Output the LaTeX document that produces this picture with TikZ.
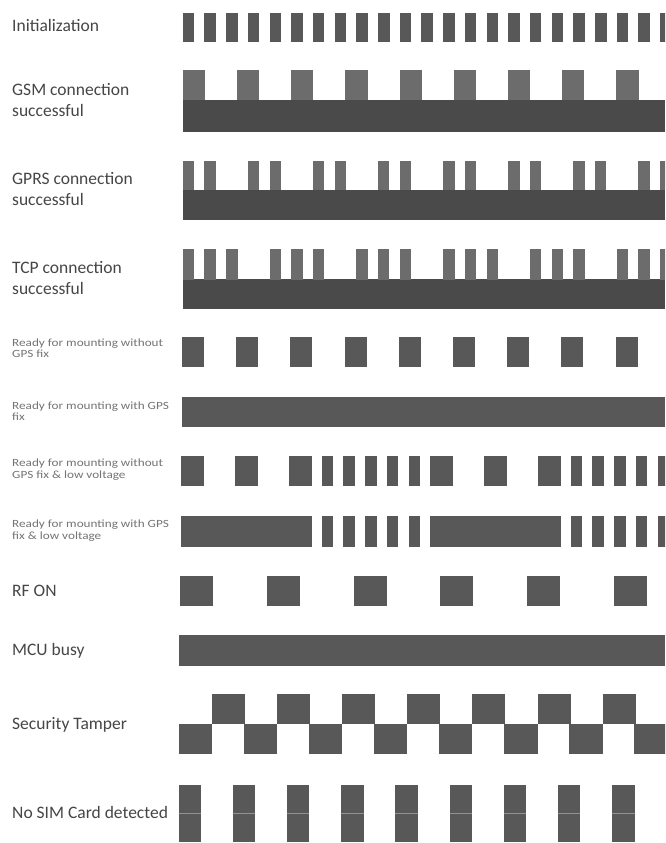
\documentclass[tikz,border=0pt]{standalone}
\usepackage{fontspec}
\setmainfont{Carlito}
\newfontfamily\smallf[FakeStretch=1.2]{Carlito}
\definecolor{barc}{RGB}{108,108,108}
\definecolor{basec}{RGB}{74,74,74}
\definecolor{blockc}{RGB}{88,88,88}
\definecolor{txt}{RGB}{70,70,70}
\begin{document}
\begin{tikzpicture}[x=1pt,y=-1pt,
  biglab/.style={anchor=base west,inner sep=0pt,text=txt,font=\fontsize{17.5}{20}\selectfont},
  smalllab/.style={anchor=base west,inner sep=0pt,text=txt!75,font=\smallf\fontsize{11}{12}\selectfont},
  pulse/.style={fill=barc},
  base/.style={fill=basec},
  block/.style={fill=blockc}]
\useasboundingbox (0,0) rectangle (665,843);
\clip (0,0) rectangle (665,843);
\fill[white] (0,0) rectangle (665,843);

% labels
\node[biglab] (l1) at (12,32) {Initialization};
\node[biglab] (l2a) at (12,95.5) {GSM connection};
\node[biglab] (l2b) at (12,116.5) {successful};
\node[biglab] (l3a) at (12,184.5) {GPRS connection};
\node[biglab] (l3b) at (12,205.5) {successful};
\node[biglab] (l4a) at (12,273.5) {TCP connection};
\node[biglab] (l4b) at (12,294.5) {successful};
\node[smalllab] (l5a) at (12,346) {Ready for mounting without};
\node[smalllab] (l5b) at (12,357) {GPS fix};
\node[smalllab] (l6a) at (12,409.5) {Ready for mounting with GPS};
\node[smalllab] (l6b) at (12,420.5) {fix};
\node[smalllab] (l7a) at (12,466.5) {Ready for mounting without};
\node[smalllab] (l7b) at (12,478) {GPS fix \& low voltage};
\node[smalllab] (l8a) at (12,527.5) {Ready for mounting with GPS};
\node[smalllab] (l8b) at (12,539) {fix \& low voltage};
\node[biglab] (l9) at (12,596) {RF ON};
\node[biglab] (l10) at (12,655) {MCU busy};
\node[biglab] (l11) at (12,729) {Security Tamper};
\node[biglab] (l12) at (12,818) {No SIM Card detected};

% Row 1: Initialization
\foreach \k in {0,...,22}
  \fill[block] ({182.7+21.7*\k},12.7) rectangle +(11.5,29);

% Row 2: GSM
\fill[base] (182.7,100) rectangle (665,131.7);
\foreach \k in {0,...,8}
  \fill[pulse] ({182.7+54.2*\k},70) rectangle +(22.3,30.2);

% Row 3: GPRS
\fill[base] (182.7,190) rectangle (665,220);
\foreach \k in {0,...,7}{
  \fill[pulse] ({182.7+65.1*\k},160.7) rectangle +(11.4,29.5);
  \fill[pulse] ({204.4+65.1*\k},160.7) rectangle +(11.4,29.5);
}

% Row 4: TCP
\fill[base] (182.7,279.3) rectangle (665,309.3);
\foreach \k in {0,...,5}{
  \foreach \j in {0,1,2}
    \fill[pulse] ({182.7+86.8*\k+21.7*\j},249.3) rectangle +(11.4,30.2);
}

% Row 5: ready without GPS fix
\foreach \k in {0,...,8}
  \fill[block] ({182+54.2*\k},336.7) rectangle +(22,30);

% Row 6: ready with GPS fix
\fill[block] (182,397.3) rectangle (665,427.3);

% Row 7: ready without GPS fix & low voltage
\foreach \g in {181,430}{
  \foreach \w in {0,54.2,108.3}
    \fill[block] ({\g+\w},455.7) rectangle +(22.5,30.3);
  \foreach \j in {0,...,4}
    \fill[block] ({\g+140.7+21.7*\j},455.7) rectangle +(11.6,30.3);
}

% Row 8: ready with GPS fix & low voltage
\foreach \g in {181,430}{
  \fill[block] (\g,516) rectangle +(130.5,31.3);
  \foreach \j in {0,...,4}
    \fill[block] ({\g+140.7+21.7*\j},516) rectangle +(11.6,31.3);
}

% Row 9: RF ON
\foreach \k in {0,...,5}
  \fill[block] ({180+86.8*\k},576) rectangle +(33,30);

% Row 10: MCU busy
\fill[block] (179.3,635) rectangle (665,666);

% Row 11: Security Tamper
\foreach \k in {0,...,7}
  \fill[block] ({178.5+65.1*\k},724.3) rectangle +(33.5,30);
\foreach \k in {0,...,6}
  \fill[block] ({212+65.1*\k},694.3) rectangle +(33,30);

% Row 12: No SIM card detected
\foreach \k in {0,...,8}{
  \fill[block] ({178.5+54.2*\k},785) rectangle +(22.5,57.3);
  \draw[white!35!blockc,line width=0.5pt] ({178.5+54.2*\k},813.6) -- +(22.5,0);
}
\end{tikzpicture}
\end{document}
